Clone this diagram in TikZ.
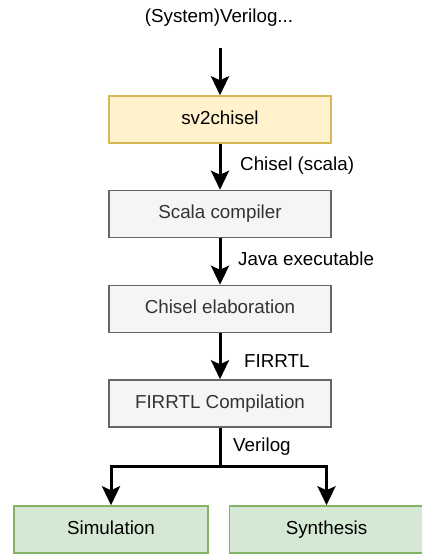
\documentclass[tikz,border=0pt]{standalone}
\usepackage{fontspec}
\setmainfont{Liberation Sans}
\usetikzlibrary{arrows.meta}
\definecolor{yfill}{HTML}{FFF2CC}\definecolor{ydraw}{HTML}{D6B656}
\definecolor{gfill}{HTML}{F5F5F5}\definecolor{gdraw}{HTML}{666666}
\definecolor{nfill}{HTML}{D5E8D4}\definecolor{ndraw}{HTML}{82B366}
\definecolor{gtext}{HTML}{333333}
\tikzset{
  box/.style={rectangle, minimum width=222pt, minimum height=47pt, line width=1.5pt, inner sep=0pt, text height=13.5pt, text depth=4pt, font=\fontsize{18.8}{22}\selectfont},
  ybox/.style={box, fill=yfill, draw=ydraw},
  gbox/.style={box, fill=gfill, draw=gdraw, text=gtext},
  nbox/.style={box, fill=nfill, draw=ndraw, minimum width=194pt},
  lbl/.style={anchor=west, inner sep=0pt, font=\fontsize{18.8}{22}\selectfont},
  conn/.style={line width=3pt, -{Stealth[length=19pt,width=18pt,inset=4pt]}},
  seg/.style={line width=3pt},
}
\begin{document}
\begin{tikzpicture}[x=1pt,y=-1pt]
\useasboundingbox (0,0) rectangle (422,554);
\node[inner sep=0pt, font=\fontsize{18.8}{22}\selectfont] (src) at (219,18) {(System)Verilog...};
\coordinate (s0) at (220,48);
\node[ybox] (sv) at (220,119.5) {sv2chisel};
\node[gbox] (sc) at (220,214) {Scala compiler};
\node[gbox] (ce) at (220,309) {Chisel elaboration};
\node[gbox] (fc) at (220,403.5) {FIRRTL Compilation};
\node[nbox] (sim) at (111,529.5) {Simulation};
\node[nbox] (syn) at (326.5,529.5) {Synthesis};
\draw[conn] (s0) -- (sv.north);
\draw[conn] (sv.south) -- (sc.north);
\draw[conn] (sc.south) -- (ce.north);
\draw[conn] (ce.south) -- (fc.north);
\coordinate (j) at (220,466);
\draw[seg] (fc.south) -- (j);
\draw[conn] (j) -| (sim.north);
\draw[conn] (j) -| (syn.north);
\node[lbl] (l1) at (240,166) {Chisel (scala)};
\node[lbl] (l2) at (238,259) {Java executable};
\node[lbl] (l3) at (244,361) {FIRRTL};
\node[lbl] (l4) at (233,447) {Verilog};
\end{tikzpicture}
\end{document}
